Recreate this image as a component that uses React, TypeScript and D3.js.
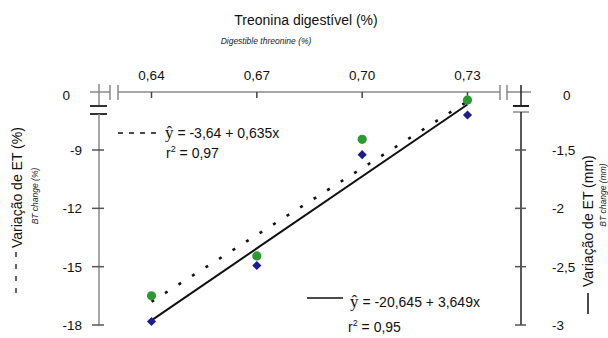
import React from "react";
import * as d3 from "d3";

// threonine levels (x) and measured responses
const levels = [0.64, 0.67, 0.7, 0.73];
const btPercent = [-16.5, -14.45, -8.45, -6.43]; // green, left axis (%)
const btMm = [-2.97, -2.49, -1.54, -1.2]; // blue, right axis (mm)

// fitted lines, read at the ends
const fitPercent = [-16.8, -6.5];
const fitMm = [-2.96, -1.11];

const xTicks = [0.64, 0.67, 0.7, 0.73];
const leftTicks = [-9, -12, -15, -18];
const rightTicks = [-1.5, -2, -2.5, -3];

const W = 608;
const H = 338;
const topY = 92;
const leftX = 99;
const rightX = 521;
const bottomY = 325;
const font = "'Liberation Sans', Arial, sans-serif";
const serif = "'Liberation Serif', 'Times New Roman', serif";
const fmt = (v: number, d: number) => v.toFixed(d).replace(".", ",");

const App: React.FC = () => {
  const x = d3.scaleLinear().domain([0.64, 0.73]).range([151.5, 467.5]);
  const yL = d3.scaleLinear().domain([-18, -9]).range([bottomY, 150]);
  const yR = d3.scaleLinear().domain([-3, -1.5]).range([bottomY, 150]);
  const line = d3.line<[number, number]>();
  const marker = d3.symbol().type(d3.symbolSquare).size(42)()!;

  const dotted = line([
    [x(levels[0]), yL(fitPercent[0])],
    [x(levels[3]), yL(fitPercent[1])],
  ])!;
  const solid = line([
    [x(levels[0]), yR(fitMm[0])],
    [x(levels[3]), yR(fitMm[1])],
  ])!;

  const grey = "#8a8a8a";
  const dark = "#222";

  return (
    <svg
      width={W}
      height={H}
      viewBox={`0 0 ${W} ${H}`}
      style={{ position: "absolute", left: 0, top: 0, background: "#fff" }}
      fontFamily={font}
    >
      {/* titles */}
      <text x={306} y={25} textAnchor="middle" fontSize={14} fill="#111">
        Treonina digestível (%)
      </text>
      <text x={266} y={44} textAnchor="middle" fontSize={8.5} fontStyle="italic" fill="#222">
        Digestible threonine (%)
      </text>

      {/* top axis */}
      <g stroke={grey} strokeWidth={1.5}>
        <line x1={90} x2={110} y1={topY} y2={topY} />
        <line x1={110} x2={110} y1={85} y2={100} />
        <line x1={118} x2={118} y1={85} y2={100} />
        <line x1={118} x2={500} y1={topY} y2={topY} />
        <line x1={500} x2={500} y1={85} y2={100} />
        <line x1={507} x2={507} y1={85} y2={100} />
        <line x1={507} x2={531} y1={topY} y2={topY} />
        {xTicks.map((t) => (
          <line key={t} x1={x(t)} x2={x(t)} y1={topY} y2={topY + 6} stroke="#444" />
        ))}
      </g>
      {xTicks.map((t) => (
        <text key={t} x={x(t)} y={80} textAnchor="middle" fontSize={13.5} fill="#111">
          {fmt(t, 2)}
        </text>
      ))}

      {/* left axis */}
      <g stroke={grey} strokeWidth={1.5}>
        <line x1={leftX} x2={leftX} y1={84} y2={106} />
        <line x1={90} x2={107} y1={106} y2={106} stroke="#333" strokeWidth={2} />
        <line x1={90} x2={107} y1={114} y2={114} stroke="#333" strokeWidth={2} />
        <line x1={leftX} x2={leftX} y1={114} y2={bottomY} />
        {leftTicks.map((t) => (
          <line key={t} x1={leftX - 7} x2={leftX + 5} y1={yL(t)} y2={yL(t)} stroke="#555" />
        ))}
      </g>
      <text x={70} y={100} textAnchor="end" fontSize={13.5} fill="#111">0</text>
      {leftTicks.map((t) => (
        <text key={t} x={82} y={yL(t) + 5} textAnchor="end" fontSize={13.5} fill="#111">
          {t}
        </text>
      ))}

      {/* right axis */}
      <g stroke={dark} strokeWidth={1.5}>
        <line x1={rightX} x2={rightX} y1={85} y2={106} />
        <line x1={513} x2={529} y1={106} y2={106} strokeWidth={2} />
        <line x1={513} x2={529} y1={112} y2={112} stroke={grey} />
        <line x1={rightX} x2={rightX} y1={112} y2={bottomY} />
        {rightTicks.map((t) => (
          <line key={t} x1={rightX - 6} x2={rightX + 5} y1={yR(t)} y2={yR(t)} stroke="#555" />
        ))}
      </g>
      <text x={563} y={100} fontSize={13.5} fill="#111">0</text>
      {rightTicks.map((t) => (
        <text key={t} x={552} y={yR(t) + 5} fontSize={13.5} fill="#111">
          {fmt(t, t % 1 === 0 ? 0 : 1)}
        </text>
      ))}

      {/* axis titles */}
      <line x1={16} x2={16} y1={252} y2={298} stroke="#111" strokeWidth={1.3} strokeDasharray="5,7" />
      <text x={22} y={248} fontSize={14} fill="#111" transform="rotate(-90,22,248)">
        Variação de ET (%)
      </text>
      <text x={38} y={196} textAnchor="middle" fontSize={8.5} fontStyle="italic" fill="#222"
        transform="rotate(-90,38,196)">
        BT change (%)
      </text>
      <line x1={588} x2={588} y1={293} y2={314} stroke="#111" strokeWidth={1.5} />
      <text x={593} y={287} fontSize={14} fill="#111" transform="rotate(-90,593,287)">
        Variação de ET (mm)
      </text>
      <text x={606} y={195} textAnchor="middle" fontSize={8.5} fontStyle="italic" fill="#222"
        transform="rotate(-90,606,195)">
        BT change (mm)
      </text>

      {/* fitted lines */}
      <path d={dotted} fill="none" stroke="#111" strokeWidth={2.6} strokeDasharray="3,13" />
      <path d={solid} fill="none" stroke="#111" strokeWidth={2} />

      {/* points */}
      {levels.map((l, i) => (
        <circle key={"g" + l} cx={x(l)} cy={yL(btPercent[i])} r={4.6} fill="#2b9a33" />
      ))}
      {levels.map((l, i) => (
        <path key={"b" + l} d={marker}
          transform={`translate(${x(l)},${yR(btMm[i])}) rotate(45)`} fill="#1d1d8f" />
      ))}

      {/* equations */}
      <line x1={118} x2={156} y1={133} y2={133} stroke="#111" strokeWidth={1.3} strokeDasharray="5,6" />
      <text x={165} y={138} fontSize={14} fill="#111">
        <tspan fontFamily={serif} fontSize={17}>ŷ</tspan>
        <tspan> = -3,64 + 0,635x</tspan>
      </text>
      <text x={166} y={158} fontSize={14} fill="#111">
        r<tspan dy={-6} fontSize={9}>2</tspan><tspan dy={6}> = 0,97</tspan>
      </text>

      <line x1={307} x2={343} y1={298} y2={298} stroke="#111" strokeWidth={1.5} />
      <text x={350} y={307} fontSize={14} fill="#111">
        <tspan fontFamily={serif} fontSize={17}>ŷ</tspan>
        <tspan> = -20,645 + 3,649x</tspan>
      </text>
      <text x={348} y={332} fontSize={14} fill="#111">
        r<tspan dy={-6} fontSize={9}>2</tspan><tspan dy={6}> = 0,95</tspan>
      </text>
    </svg>
  );
};

export default App;
